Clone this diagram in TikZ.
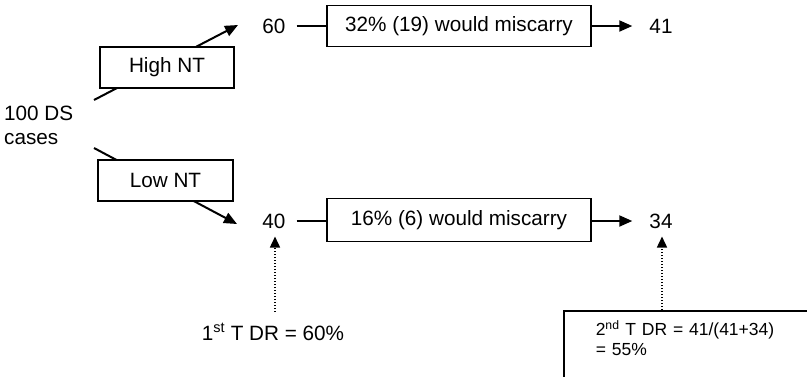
\documentclass[tikz,border=0pt]{standalone}
\usepackage{fontspec}
\setmainfont{Liberation Sans}
\usetikzlibrary{arrows.meta}
\begin{document}
\begin{tikzpicture}[x=1pt,y=-1pt,
  every node/.style={font=\fontsize{20.7}{24}\selectfont, inner sep=0pt},
  box/.style={draw, line width=1.5pt, fill=white, minimum height=41pt},
  arr/.style={line width=2pt, -{Triangle[length=13pt,width=11pt]}},
  plain/.style={line width=2pt},
  dotarr/.style={line width=1.6pt, dash pattern=on 1.5pt off 1.5pt, -{Triangle[length=11pt,width=10pt]}}]
\useasboundingbox (0,0) rectangle (807,376);
\clip (0,0) rectangle (807,376);
% start
\node[align=left, anchor=west] (start) at (4,125) {100 DS\\cases};
% branch arrows
\coordinate (s1) at (94,100);
\coordinate (t1) at (238,25);
\coordinate (s2) at (94,148);
\coordinate (t2) at (237,224);
\draw[arr] (s1) -- (t1);
\draw[arr] (s2) -- (t2);
\node[box, minimum width=134pt] (high) at (167,67.5) {High NT};
\node[box, minimum width=135pt] (low) at (165.5,180.5) {Low NT};
% rows
\node (n60) at (274,26) {60};
\node (n40) at (274,221) {40};
\node[box, minimum width=264pt] (b1) at (459,26) {32\% (19) would miscarry};
\node[box, minimum width=264pt, minimum height=43pt] (b2) at (459,220) {16\% (6) would miscarry};
\node (n41) at (661,26) {41};
\node (n34) at (661,221) {34};
\draw[plain] ([xshift=11pt]n60.east) -- (b1.west);
\draw[plain] ([xshift=11pt]n40.east) -- (b2.west |- n40.east);
\draw[arr] (b1.east) -- ([xshift=-17pt]n41.west);
\draw[arr] (b2.east |- n34.west) -- ([xshift=-17pt]n34.west);
% detection rates
\node (dr1) at (273,332) {1\textsuperscript{st} T DR = 60\%};
\node[draw, line width=1.5pt, anchor=north west, align=left, text width=230pt,
      inner xsep=32pt, inner ysep=10pt,
      font=\fontsize{17.5}{20}\selectfont] (dr2) at (563,310)
      {2\textsuperscript{nd} T DR = 41/(41+34)\\= 55\%\rule[-30pt]{0pt}{30pt}};
\coordinate (d1s) at (275,312);
\coordinate (d2s) at (662,310);
\draw[dotarr] (d1s) -- ([yshift=-8pt]n40.south -| d1s);
\draw[dotarr] (d2s) -- ([yshift=-8pt]n34.south -| d2s);
\end{tikzpicture}
\end{document}
